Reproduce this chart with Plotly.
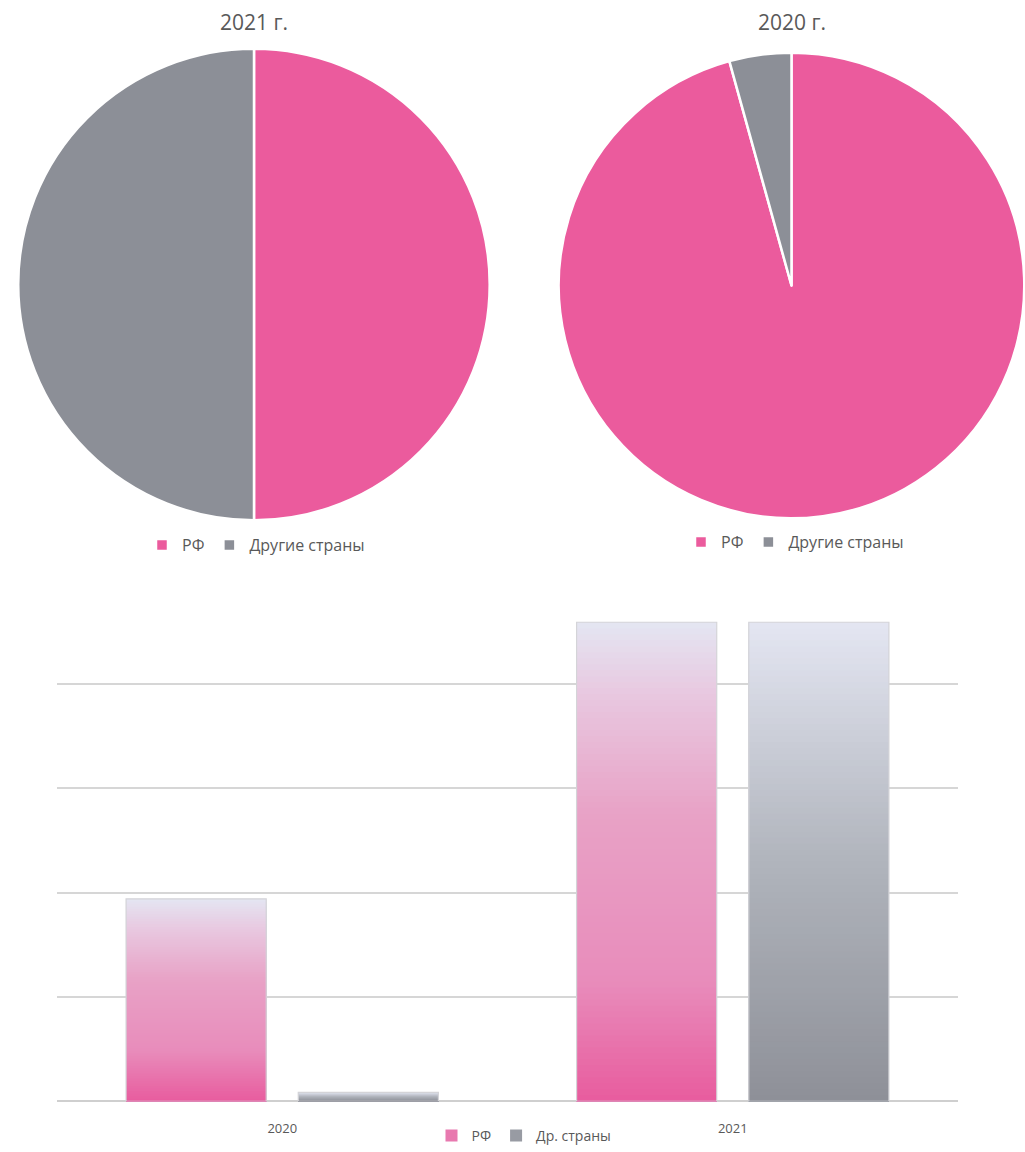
import plotly.graph_objects as go

# ---- data ----
pie_labels = ["РФ", "Другие страны"]
pie_2021_values = [50.0, 50.0]
pie_2020_values = [95.7, 4.3]
pie_titles = ["2021 г.", "2020 г."]

bar_categories = ["2020", "2021"]
bar_rf_values = [1.94, 4.59]
bar_other_values = [0.085, 4.59]
bar_series_names = ["РФ", "Др. страны"]

# ---- style ----
PINK = "#EB5B9D"
GREY = "#8C8F97"
TEXT = "#595959"
FONT = "Open Sans"
N_SEG = 80
W, H = 1025, 1152
YS = 1.0035   # small vertical correction for the rendered page


def px(x):
    return x / W


def py(y):
    return 1 - (y * YS) / H


pink_stops = [(0.0, (232, 92, 158)), (0.25, (232, 140, 187)), (0.6, (232, 162, 198)),
              (0.85, (232, 200, 224)), (1.0, (228, 230, 242))]
grey_stops = [(0.0, (142, 144, 152)), (0.5, (176, 180, 188)), (1.0, (228, 230, 242))]


def grad(stops, t):
    for (t0, c0), (t1, c1) in zip(stops[:-1], stops[1:]):
        if t0 <= t <= t1:
            f = (t - t0) / (t1 - t0) if t1 > t0 else 0
            c = [round(a + (b - a) * f) for a, b in zip(c0, c1)]
            return "rgb(%d,%d,%d)" % tuple(c)
    return "rgb(%d,%d,%d)" % stops[-1][1]


fig = go.Figure()

# ---- pies ----
fig.add_trace(go.Pie(
    labels=pie_labels, values=pie_2021_values, sort=False, direction="clockwise",
    rotation=0, textinfo="none", hoverinfo="label+percent",
    marker=dict(colors=[PINK, GREY], line=dict(color="white", width=2.5)),
    domain=dict(x=[px(17), px(491)], y=[py(523), py(49)]),
    legend="legend", legendgroup="p2021",
))
fig.add_trace(go.Pie(
    labels=pie_labels, values=pie_2020_values, sort=False, direction="clockwise",
    rotation=0, textinfo="none", hoverinfo="label+percent",
    marker=dict(colors=[PINK, GREY], line=dict(color="white", width=2.5)),
    domain=dict(x=[px(558), px(1025)], y=[py(521), py(53)]),
    legend="legend2", legendgroup="p2020",
))

# ---- bars with vertical gradient: overlapping bars from the baseline,
#      tallest (lightest top colour) first, shortest (darkest) last ----
for values, name, stops, grp in [(bar_rf_values, bar_series_names[0], pink_stops, "rf"),
                                 (bar_other_values, bar_series_names[1], grey_stops, "other")]:
    for k in range(N_SEG):
        frac = (N_SEG - k) / N_SEG
        t = (N_SEG - k - 0.5) / N_SEG
        fig.add_trace(go.Bar(
            x=bar_categories,
            y=[v * frac for v in values],
            offsetgroup=grp,
            marker=dict(color=grad(stops, t), line=dict(width=0)),
            name=name, showlegend=False, hoverinfo="skip",
        ))
    fig.add_trace(go.Bar(
        x=bar_categories, y=values, offsetgroup=grp,
        marker=dict(color="rgba(0,0,0,0)", line=dict(color="#D4D4D8", width=1.2)),
        name=name, showlegend=False,
    ))
    # legend entry (zero-height overlay on the same bars)
    fig.add_trace(go.Bar(
        x=bar_categories, y=[0 for _ in values], offsetgroup=grp,
        marker=dict(color=grad(stops, 0.15), line=dict(width=0)),
        name=name, showlegend=True, legend="legend3", hoverinfo="skip",
    ))

for txt, xc in zip(pie_titles, [254, 792]):
    fig.add_annotation(text=txt, x=px(xc), y=py(22), xref="paper", yref="paper",
                       showarrow=False, font=dict(size=21, color=TEXT, family=FONT),
                       xanchor="center", yanchor="middle")

legend_common = dict(orientation="h", xanchor="center", yanchor="middle", traceorder="normal",
                     bgcolor="rgba(0,0,0,0)", itemwidth=30)

fig.update_layout(
    width=W, height=H,
    margin=dict(l=0, r=0, t=0, b=0),
    paper_bgcolor="white", plot_bgcolor="white",
    font=dict(family=FONT, color=TEXT),
    barmode="group", bargap=0.2356, bargroupgap=0.186,
    xaxis=dict(domain=[px(57), px(958)], type="category", showline=False,
               ticks="", showgrid=False, ticklabelstandoff=18,
               tickfont=dict(size=13, color=TEXT, family=FONT)),
    yaxis=dict(domain=[py(1107), py(582)], range=[0, 5.005], dtick=1,
               showticklabels=False, showgrid=True, gridcolor="#D6D6D6", gridwidth=1.5,
               zeroline=True, zerolinecolor="#CFCFCF", zerolinewidth=1.5),
    legend=dict(x=px(256), y=py(548), font=dict(size=16, color=TEXT, family=FONT),
                **legend_common),
    legend2=dict(x=px(795), y=py(545), font=dict(size=16, color=TEXT, family=FONT),
                 **legend_common),
    legend3=dict(x=px(524), y=py(1142), font=dict(size=14, color=TEXT, family=FONT),
                 **legend_common),
    showlegend=True,
)

fig.write_html("out.html", config={"displayModeBar": False},
               post_script="document.body.style.margin='0';document.body.style.overflow='hidden';")
